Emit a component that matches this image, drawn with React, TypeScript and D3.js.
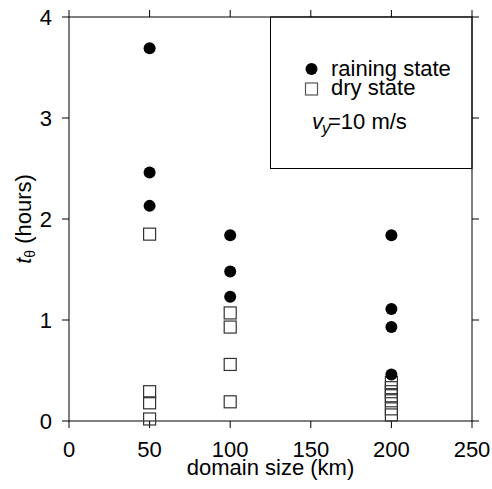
import React from "react";
import * as d3 from "d3";

// Equilibration time t_theta versus domain size
const rainingDomain = [50, 50, 50, 100, 100, 100, 200, 200, 200, 200];
const rainingHours = [3.69, 2.46, 2.13, 1.84, 1.48, 1.23, 1.84, 1.11, 0.93, 0.46];

const dryDomain = [50, 50, 50, 50, 100, 100, 100, 100, 200, 200, 200, 200, 200, 200, 200];
const dryHours = [1.85, 0.29, 0.18, 0.02, 1.07, 0.93, 0.56, 0.19, 0.38, 0.33, 0.29, 0.25, 0.2, 0.12, 0.06];

const xTicks = [0, 50, 100, 150, 200, 250];
const yTicks = [0, 1, 2, 3, 4];

const W = 492;
const H = 489;
const M = { left: 69, right: 472, top: 17, bottom: 421 };
const FONT = "'Liberation Sans', Arial, Helvetica, sans-serif";

export default function App() {
  const x = d3.scaleLinear().domain([0, 250]).range([M.left, M.right]);
  const y = d3.scaleLinear().domain([0, 4]).range([M.bottom, M.top]);
  const tick = 7;
  const sq = 12;

  return (
    <svg
      width={W}
      height={H}
      style={{ position: "absolute", left: 0, top: 0, background: "#fff" }}
      fontFamily={FONT}
    >
      {/* frame */}
      <rect
        x={M.left}
        y={M.top}
        width={M.right - M.left}
        height={M.bottom - M.top}
        fill="none"
        stroke="#000"
        strokeWidth={1}
      />
      {/* legend box */}
      <rect
        x={x(125)}
        y={M.top}
        width={M.right - x(125)}
        height={y(2.5) - M.top}
        fill="none"
        stroke="#000"
        strokeWidth={1}
      />
      {/* ticks on all four sides */}
      {xTicks.map((t) => (
        <g key={"xt" + t}>
          <line x1={x(t)} x2={x(t)} y1={M.bottom} y2={M.bottom + tick} stroke="#000" />
          <line x1={x(t)} x2={x(t)} y1={M.top} y2={M.top - tick} stroke="#000" />
          <text x={x(t)} y={M.bottom + 36} textAnchor="middle" fontSize={22} fill="#000">
            {t}
          </text>
        </g>
      ))}
      {yTicks.map((t) => (
        <g key={"yt" + t}>
          <line x1={M.left} x2={M.left - tick} y1={y(t)} y2={y(t)} stroke="#000" />
          <line x1={M.right} x2={M.right + tick} y1={y(t)} y2={y(t)} stroke="#000" />
          <text x={M.left - 17} y={y(t) + 8} textAnchor="end" fontSize={22} fill="#000">
            {t}
          </text>
        </g>
      ))}
      {/* axis titles */}
      <text x={(M.left + M.right) / 2} y={475} textAnchor="middle" fontSize={22} fill="#000">
        domain size (km)
      </text>
      <text
        transform={`translate(31,${(M.top + M.bottom) / 2}) rotate(-90)`}
        textAnchor="middle"
        fontSize={22}
        fill="#000"
      >
        <tspan fontStyle="italic">t</tspan>
        <tspan fontSize={14} dy={4}>θ</tspan>
        <tspan dy={-4}> (hours)</tspan>
      </text>
      {/* dry state squares */}
      {dryHours.map((v, i) => (
        <rect
          key={"d" + i}
          x={x(dryDomain[i]) - sq / 2}
          y={y(v) - sq / 2}
          width={sq}
          height={sq}
          fill="none"
          stroke="#333"
          strokeWidth={1.2}
        />
      ))}
      {/* raining state circles */}
      {rainingHours.map((v, i) => (
        <circle key={"r" + i} cx={x(rainingDomain[i])} cy={y(v)} r={6} fill="#000" />
      ))}
      {/* legend */}
      <circle cx={311.5} cy={69} r={6} fill="#000" />
      <text x={331} y={75.5} fontSize={22} fill="#000">
        raining state
      </text>
      <rect x={305.5} y={83} width={12} height={12} fill="none" stroke="#555" strokeWidth={1.2} />
      <text x={331} y={95} fontSize={22} fill="#000">
        dry state
      </text>
      <text x={312} y={128.5} fontSize={22} fill="#000">
        <tspan fontStyle="italic">v</tspan>
        <tspan fontStyle="italic" fontSize={16} dy={5} dx={-1}>y</tspan>
        <tspan dy={-5} dx={-2}>=10 m/s</tspan>
      </text>
    </svg>
  );
}
